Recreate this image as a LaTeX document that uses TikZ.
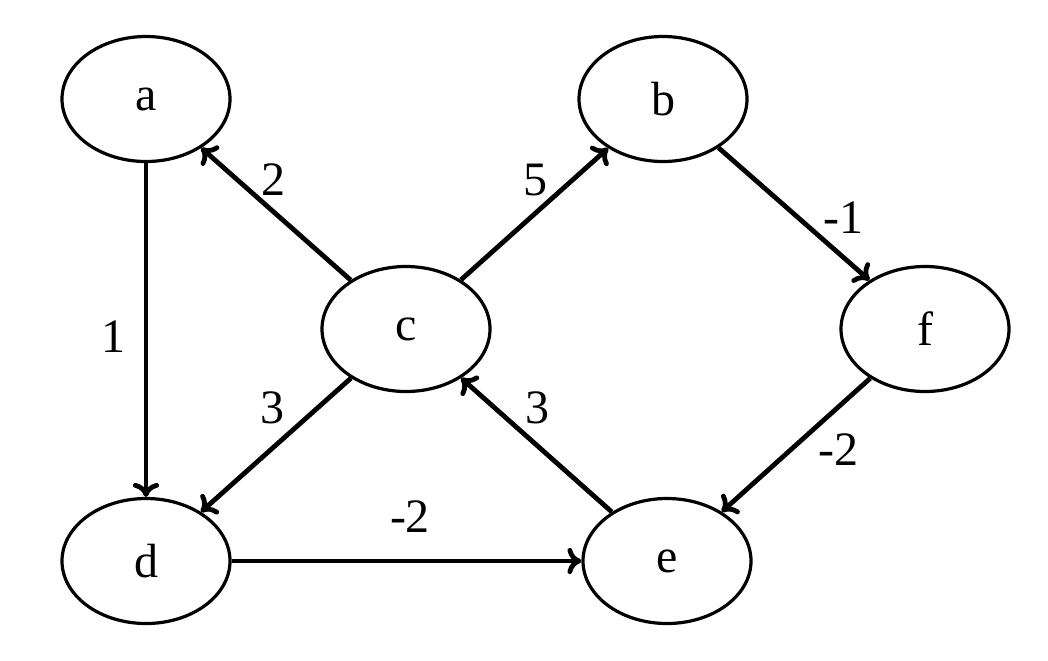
\documentclass[tikz,border=0pt]{standalone}
\usepackage{fontspec}
\setmainfont{Liberation Serif}
\usetikzlibrary{shapes.geometric,arrows.meta}
\begin{document}
\begin{tikzpicture}[x=0.5pt,y=-0.5pt,
  vtx/.style={draw,ellipse,line width=1.6pt,minimum width=84pt,minimum height=62.5pt,inner sep=0pt,font=\fontsize{24}{28}\selectfont},
  edge/.style={line width=2.4pt,-{To[length=7pt,width=13pt]}},
  lbl/.style={font=\fontsize{24}{28}\selectfont}]
\useasboundingbox (0,0) rectangle (1048,660);
\node[vtx] (a) at (146,99) {a};
\node[vtx] (b) at (663,99) {b};
\node[vtx] (c) at (406,329) {c};
\node[vtx] (f) at (925,329) {f};
\node[vtx] (d) at (146,561) {d};
\node[vtx] (e) at (667,561) {e};
\draw[edge] (a) -- (d);
\draw[edge] (c) -- (a);
\draw[edge] (c) -- (b);
\draw[edge] (b) -- (f);
\draw[edge] (f) -- (e);
\draw[edge] (c) -- (d);
\draw[edge] (e) -- (c);
\draw[edge] (d) -- (e);
\node[lbl] (l1) at (113,337) {1};
\node[lbl] (l2) at (273,180) {2};
\node[lbl] (l5) at (535,180) {5};
\node[lbl] (lm1) at (843,218) {-1};
\node[lbl] (l3a) at (272,408) {3};
\node[lbl] (l3b) at (537,408) {3};
\node[lbl] (lm2a) at (838,450) {-2};
\node[lbl] (lm2b) at (410,517) {-2};
\end{tikzpicture}
\end{document}
